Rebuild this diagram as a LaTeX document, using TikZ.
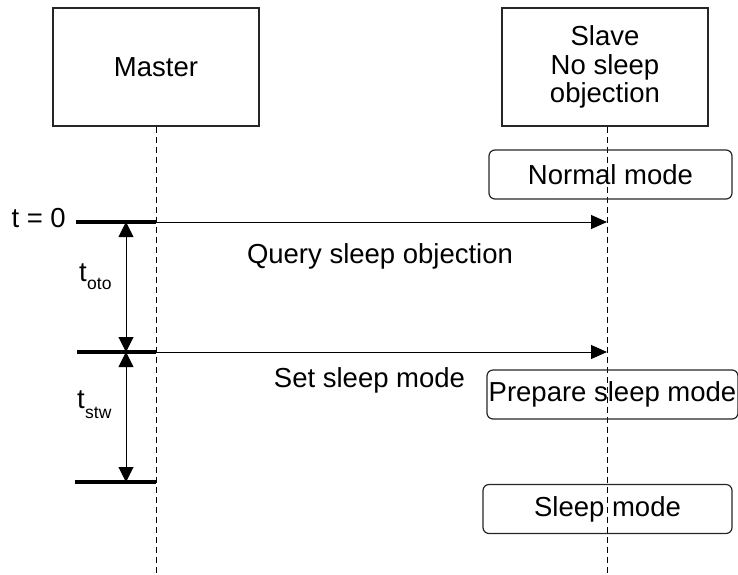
\documentclass[tikz,border=0pt]{standalone}
\usepackage{fontspec}
\setmainfont{Liberation Sans}
\usetikzlibrary{arrows.meta}
\begin{document}
\begin{tikzpicture}[x=1pt,y=-1pt,
  lbl/.style={font=\fontsize{27.5}{28.5}\selectfont, inner sep=0pt},
  actor/.style={draw=black!85, line width=1.3pt, rectangle, minimum width=206pt,
                minimum height=118pt, inner sep=0pt, align=center,
                font=\fontsize{27.5}{28.5}\selectfont},
  state/.style={draw=black!85, line width=1.2pt, rounded corners=6pt, minimum height=49pt,
                inner sep=0pt, font=\fontsize{27.5}{28.5}\selectfont},
  life/.style={dash pattern=on 6pt off 4pt, line width=1pt},
  bar/.style={line width=3.5pt},
  msg/.style={line width=1pt, -{Triangle[length=16pt,width=14pt]}},
  span/.style={line width=1pt, {Triangle[length=15pt,width=15pt]}-{Triangle[length=15pt,width=15pt]}},
  sub/.style={font=\fontsize{17.5}{18}\selectfont, inner sep=0pt}]
  \useasboundingbox (0,0) rectangle (738,574);

  % actors
  \node[actor] (master) at (156,67) {Master};
  \node[actor] (slave) at (605,67) {Slave\\No sleep\\objection};

  % lifelines
  \coordinate (mend) at (156,574);
  \coordinate (send) at (607,574);
  \draw[life] (master.south) -- (mend);
  \draw[life] (slave.south -| send) -- (send);

  % time marks on the master side
  \coordinate (m0) at (156,222);
  \coordinate (m1) at (156,352);
  \coordinate (m2) at (156,482);
  \coordinate (b0) at (76,222);
  \coordinate (b1) at (77,352);
  \coordinate (b2) at (75,482);
  \draw[bar] (b0) -- (m0);
  \draw[bar] (b1) -- (m1);
  \draw[bar] (b2) -- (m2);

  % messages
  \coordinate (s0) at (607,222);
  \coordinate (s1) at (607,352);
  \draw[msg] (m0) -- (s0);
  \draw[msg] (m1) -- (s1);

  % durations
  \coordinate (v0) at (126,222);
  \coordinate (v1) at (126,352);
  \coordinate (v2) at (126,482);
  \draw[span] (v0) -- (v1);
  \draw[span] (v1) -- (v2);

  % labels
  \node[lbl, anchor=base east] (t0) at (66,227) {t = 0};
  \node[lbl, anchor=base] (query) at (380,263) {Query sleep objection};
  \node[lbl, anchor=base] (setsleep) at (369.5,387) {Set sleep mode};
  \node[lbl, anchor=base west] (toto) at (79,281) {t};
  \node[sub, anchor=base west] (totos) at (toto.base east) [yshift=-8pt] {oto};
  \node[lbl, anchor=base west] (tstw) at (77,408) {t};
  \node[sub, anchor=base west] (tstws) at (tstw.base east) [yshift=-10pt] {stw};

  % slave states
  \node[state, minimum width=243pt] (normal) at (610.5,174.5) {Normal mode};
  \node[state, minimum width=251pt] (prep) at (612.5,394.5) {Prepare sleep mode};
  \node[state, minimum width=249pt] (sleep) at (607.5,509) {Sleep mode};
\end{tikzpicture}
\end{document}
